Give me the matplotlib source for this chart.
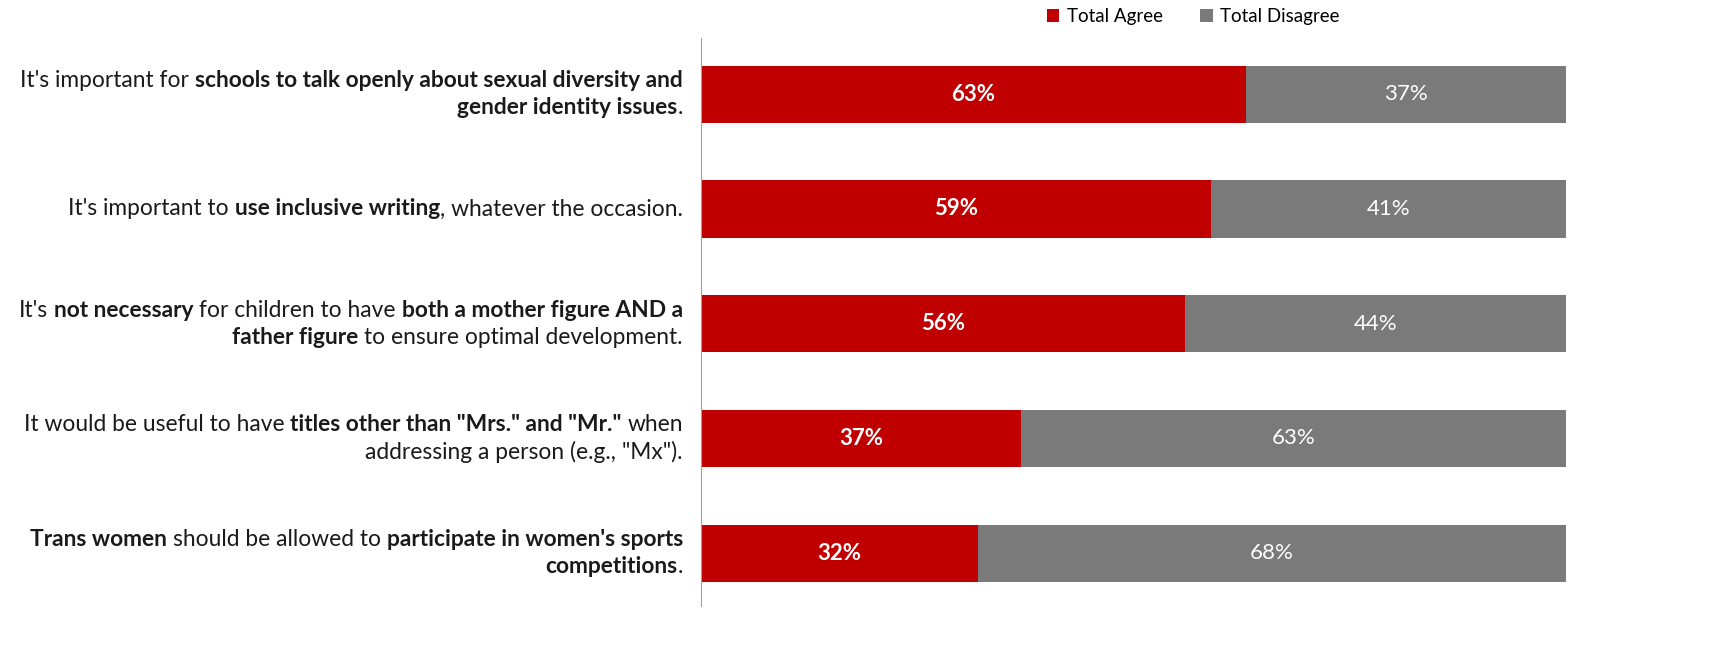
import numpy as np
import matplotlib
matplotlib.use("Agg")
import matplotlib.pyplot as plt

# survey results, % of respondents
agree = [63, 59, 56, 37, 32]
disagree = [37, 41, 44, 63, 68]
series_names = ["Total Agree", "Total Disagree"]

# statement labels, each line a list of (text, bold) pieces
statements = [
    [[("It's important for ", False), ("schools to talk openly about sexual diversity and", True)],
     [("gender identity issues", True), (".", False)]],
    [[("It's important to ", False), ("use inclusive writing", True), (", whatever the occasion.", False)]],
    [[("It's ", False), ("not necessary", True), (" for children to have ", False), ("both a mother figure AND a", True)],
     [("father figure", True), (" to ensure optimal development.", False)]],
    [[("It would be useful to have ", False), ('titles other than "Mrs." and "Mr."', True), (" when", False)],
     [('addressing a person (e.g., "Mx").', False)]],
    [[("Trans women", True), (" should be allowed to ", False), ("participate in women's sports", True)],
     [("competitions", True), (".", False)]],
]

RED = "#C00000"
GREY = "#7A7A7A"
FONT = "Lato"
FS = 16.4

plt.rcParams['font.family'] = FONT

W, H = 1715, 664
fig = plt.figure(figsize=(W / 100, H / 100), dpi=100)
ax = fig.add_axes([701 / W, 1 - 606 / H, 865 / W, 568 / H])

y = np.arange(len(agree))
ax.barh(y, agree, height=0.5, color=RED, label=series_names[0])
ax.barh(y, disagree, left=agree, height=0.5, color=GREY, label=series_names[1])

for i in range(len(agree)):
    ax.text(agree[i] / 2, y[i], f"{agree[i]}%", ha='center', va='center',
            color='white', fontsize=16, fontweight='bold')
    ax.text(agree[i] + disagree[i] / 2, y[i], f"{disagree[i]}%", ha='center', va='center',
            color='white', fontsize=16)

ax.set_xlim(0, 100)
ax.set_ylim(4.46, -0.49)
for s in ['top', 'right', 'bottom']:
    ax.spines[s].set_visible(False)
ax.spines['left'].set_color('#A0A0A0')
ax.set_xticks([])
ax.set_yticks([])

ax.legend(loc='upper left', bbox_to_anchor=(1036 / W, 1.005), bbox_transform=fig.transFigure,
          ncol=2, frameon=False, fontsize=13.5, handlelength=0.65, handleheight=0.65,
          handletextpad=0.4, columnspacing=2.0, borderaxespad=0.2)

# draw the rich-text labels piece by piece, right aligned
renderer = fig.canvas.get_renderer()


def piece_width(txt, bold):
    def w(s):
        t = fig.text(0, 0, s, fontsize=FS, fontweight='bold' if bold else 'normal')
        bb = t.get_window_extent(renderer)
        t.remove()
        return bb.width
    return w("|" + txt + "|") - w("||")


x_right = 683
line_gap = 27
for i, lines in enumerate(statements):
    yc = ax.transData.transform((0, y[i]))[1]
    n = len(lines)
    for k, pieces in enumerate(lines):
        ypix = yc + ((n - 1) / 2 - k) * line_gap
        widths = [piece_width(t, b) for t, b in pieces]
        x = x_right - sum(widths)
        for (t, b), wd in zip(pieces, widths):
            lead = len(t) - len(t.lstrip(" "))
            x0 = x + (piece_width(" " * lead, b) if lead else 0)
            fig.text(x0 / W, ypix / H, t.strip(), fontsize=FS,
                     fontweight='bold' if b else 'normal', ha='left', va='center',
                     color='#1A1A1A')
            x += wd

fig.savefig("out.png", dpi=100)
